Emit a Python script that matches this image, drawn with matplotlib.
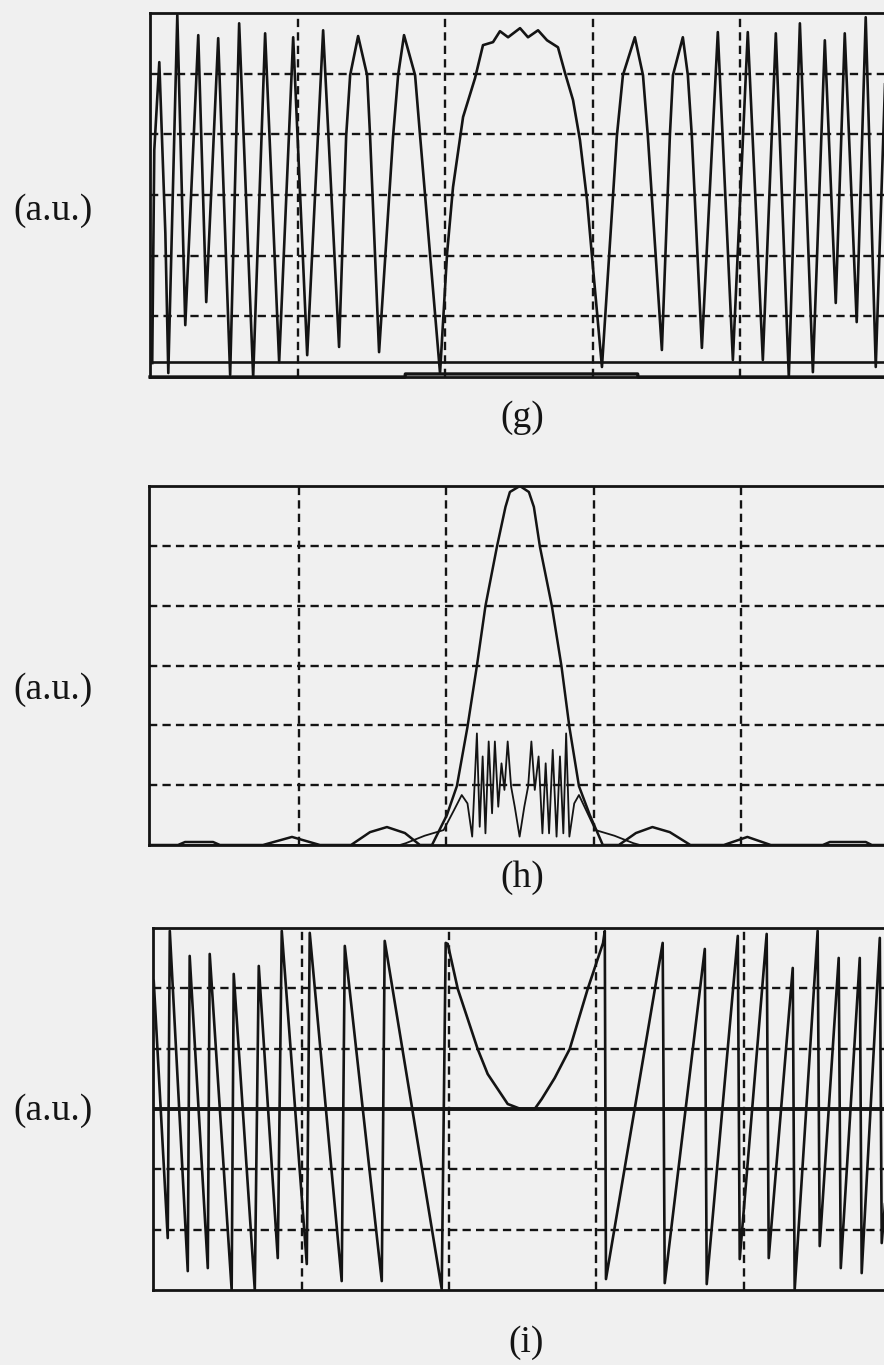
import matplotlib
matplotlib.use("Agg")
import matplotlib.pyplot as plt

# ---- panel (g): amplitude (a.u.) ----
g_x = [-2.485, -2.471, -2.437, -2.396, -2.376, -2.315, -2.261, -2.173, -2.119,
       -2.038, -1.957, -1.896, -1.801, -1.720, -1.625, -1.530, -1.435, -1.327,
       -1.219, -1.171, -1.144, -1.090, -1.029, -1.009, -0.948, -0.853, -0.819,
       -0.779, -0.704, -0.670, -0.535,
       -0.487, -0.447, -0.379, -0.298, -0.244, -0.176, -0.129, -0.074, 0.007,
       0.061, 0.129, 0.190, 0.264, 0.312, 0.366, 0.413, 0.461, 0.501, 0.562,
       0.663, 0.704, 0.785, 0.840, 0.873, 0.968, 1.022, 1.043, 1.110, 1.144,
       1.171, 1.239, 1.347, 1.449, 1.550, 1.652, 1.740, 1.828, 1.903, 1.991,
       2.072, 2.146, 2.207, 2.288, 2.349, 2.417, 2.485]
g_y = [0.046, 0.748, 1.038, 0.474, 0.013, 1.193, 0.171, 1.127, 0.247,
       1.117, 0.007, 1.166, 0.000, 1.133, 0.049, 1.120, 0.072, 1.143,
       0.099, 0.794, 0.995, 1.124, 0.995, 0.794, 0.082, 0.794, 0.995,
       1.127, 0.995, 0.794, 0.013,
       0.409, 0.626, 0.857, 0.985, 1.094, 1.104, 1.140, 1.120, 1.150,
       1.120, 1.143, 1.110, 1.087, 1.002, 0.913, 0.781, 0.583, 0.362, 0.033,
       0.794, 0.995, 1.120, 0.995, 0.794, 0.089, 0.794, 0.995, 1.120, 0.995,
       0.794, 0.096, 1.137, 0.056, 1.137, 0.056, 1.133, 0.000, 1.166, 0.016,
       1.110, 0.244, 1.133, 0.181, 1.186, 0.033, 1.044]
g_flat_x = [-2.5, 2.5]
g_flat_y = [0.049, 0.049]
g_base_x = [-2.5, -0.772, -0.770, 0.804, 0.806, 2.5]
g_base_y = [0.0, 0.0, 0.010, 0.010, 0.0, 0.0]

# ---- panel (h): spectra (a.u.) ----
h_main_x = [-2.519, -2.322, -2.274, -2.084, -2.037, -1.745, -1.548, -1.358,
            -1.147, -1.018, -0.903, -0.781, -0.679, -0.597, -0.496, -0.428,
            -0.356, -0.292, -0.234, -0.156, -0.098, -0.068, 0.0, 0.061, 0.095,
            0.136, 0.217, 0.282, 0.336, 0.401, 0.475, 0.563, 0.672, 0.788,
            0.900, 1.018, 1.158, 1.385, 1.545, 1.704, 2.057, 2.105, 2.349,
            2.39, 2.5]
h_main_y = [0.0, 0.0, 0.010, 0.010, 0.0, 0.0, 0.027, 0.0,
            0.0, 0.043, 0.060, 0.040, 0.0, 0.0, 0.100, 0.197,
            0.395, 0.599, 0.799, 0.997, 1.130, 1.180, 1.2, 1.180, 1.130,
            0.997, 0.799, 0.599, 0.395, 0.197, 0.100, 0.0, 0.0, 0.040,
            0.060, 0.043, 0.0, 0.0, 0.027, 0.0, 0.0, 0.010, 0.010,
            0.0, 0.0]
h_sig_x = [-2.519, -0.815, -0.775, -0.647, -0.518, -0.447, -0.395, -0.356,
           -0.324, -0.292, -0.273, -0.253, -0.234, -0.212, -0.189, -0.170,
           -0.147, -0.125, -0.105, -0.083, -0.060, -0.035, -0.002, 0.030,
           0.056, 0.078, 0.101, 0.127, 0.153, 0.175, 0.198, 0.223, 0.249,
           0.272, 0.295, 0.314, 0.336, 0.369, 0.401, 0.449, 0.513, 0.642,
           0.771, 0.815, 2.5]
h_sig_y = [0.0, 0.0, 0.006, 0.031, 0.050, 0.117, 0.167, 0.139,
           0.028, 0.373, 0.061, 0.296, 0.039, 0.346, 0.106, 0.346,
           0.128, 0.273, 0.184, 0.346, 0.196, 0.128, 0.028, 0.128,
           0.196, 0.346, 0.184, 0.296, 0.039, 0.273, 0.039, 0.318, 0.028,
           0.296, 0.039, 0.373, 0.028, 0.139, 0.167, 0.117, 0.050, 0.031,
           0.006, 0.0, 0.0]

# ---- panel (i): wrapped phase (a.u.) ----
i_x = [-2.505, -2.410, -2.396, -2.274, -2.261, -2.138, -2.125, -1.976, -1.962,
       -1.819, -1.792, -1.663, -1.636, -1.466, -1.446, -1.229, -1.208, -0.957,
       -0.937, -0.550, -0.523,
       -0.509, -0.441, -0.306, -0.238, -0.102, -0.014, 0.081, 0.129, 0.217,
       0.319, 0.441, 0.545, 0.557,
       0.565, 0.950, 0.964, 1.236, 1.249, 1.460, 1.473, 1.656, 1.670, 1.833,
       1.846, 2.002, 2.016, 2.145, 2.159, 2.288, 2.301, 2.424, 2.437, 2.5]
i_y = [2.123, -2.139, 2.952, -2.687, 2.537, -2.637, 2.570, -3.0, 2.239,
       -3.0, 2.371, -2.471, 2.952, -2.570, 2.919, -2.852, 2.703, -2.852,
       2.786, -2.985, 2.753,
       2.736, 1.990, 0.995, 0.580, 0.083, 0.0, 0.0, 0.166, 0.514,
       0.995, 1.990, 2.750, 2.950,
       -2.819, 2.753, -2.886, 2.653, -2.902, 2.869, -2.488, 2.902, -2.471, 2.338,
       -3.0, 2.952, -2.272, 2.504, -2.637, 2.504, -2.720, 2.836, -2.222, -0.4]

W, H = 884, 1365
bg = "#f0f0f0"
ink = "#141414"
serif = ["Liberation Serif", "DejaVu Serif"]

fig = plt.figure(figsize=(W / 100, H / 100), dpi=100, facecolor=bg)


def px_axes(left, top, right, bottom):
    return fig.add_axes([left / W, (H - bottom) / H,
                         (right - left) / W, (bottom - top) / H])


def style(ax, xlim, ylim, yticks):
    ax.set_facecolor(bg)
    ax.set_xlim(*xlim)
    ax.set_ylim(*ylim)
    ax.set_xticks([-1.5, -0.5, 0.5, 1.5])
    ax.set_yticks(yticks)
    ax.tick_params(length=0, labelbottom=False, labelleft=False)
    ax.grid(True, color=ink, lw=1.7, ls=(0, (3.5, 2.2)))
    ax.set_axisbelow(True)
    for s in ax.spines.values():
        s.set_color(ink)
        s.set_linewidth(2.0)


# (g)
ax = px_axes(150, 13, 888, 377)
style(ax, (-2.5, 2.5), (0, 1.2), [0.2, 0.4, 0.6, 0.8, 1.0])
ax.plot(g_x, g_y, color=ink, lw=1.9)
ax.plot(g_flat_x, g_flat_y, color=ink, lw=1.9)
ax.plot(g_base_x, g_base_y, color=ink, lw=2.4, clip_on=False)

# (h)
ax = px_axes(149, 486, 888, 845)
style(ax, (-2.519, 2.5), (0, 1.2), [0.2, 0.4, 0.6, 0.8, 1.0])
ax.plot(h_main_x, h_main_y, color=ink, lw=1.8)
ax.plot(h_sig_x, h_sig_y, color=ink, lw=1.3)

# (i)
ax = px_axes(153, 928, 891, 1290)
style(ax, (-2.51, 2.5), (-3, 3), [-2, -1, 1, 2])
ax.axhline(0, color=ink, lw=2.8)
ax.plot(i_x, i_y, color=ink, lw=1.9)

for yc in (211, 690, 1111):
    fig.text(13 / W, (H - yc) / H, "(a.u.)", family=serif, size=27,
             ha="left", va="center", color=ink)
for lab, xc, yc in (("(g)", 522, 418), ("(h)", 522, 878), ("(i)", 526, 1343)):
    fig.text(xc / W, (H - yc) / H, lab, family=serif, size=27,
             ha="center", va="center", color=ink)

fig.savefig("out.png", dpi=100, facecolor=bg)
